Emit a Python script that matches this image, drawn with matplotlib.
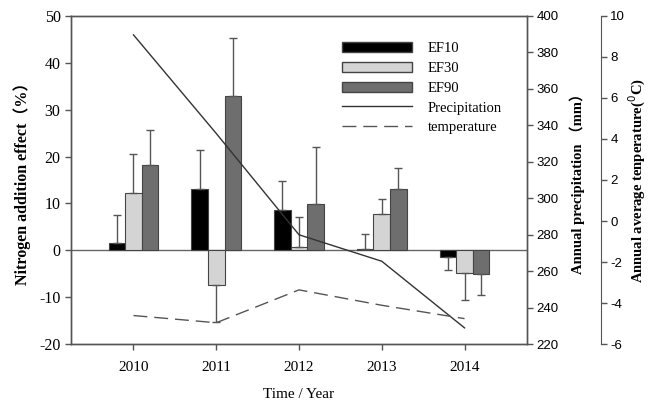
import matplotlib
matplotlib.use("Agg")
import matplotlib.pyplot as plt
import numpy as np
from matplotlib.patches import Patch
from matplotlib.lines import Line2D

years = [2010, 2011, 2012, 2013, 2014]
ef10 = [1.5, 13.1, 8.7, 0.3, -1.5]
ef30 = [12.3, -7.3, 0.7, 7.7, -4.9]
ef90 = [18.1, 32.8, 9.8, 13.0, -5.1]
ef10_err = [6.1, 8.3, 6.1, 3.1, 2.7]
ef30_err = [8.2, 8.0, 6.5, 3.3, 5.7]
ef90_err = [7.5, 12.4, 12.3, 4.6, 4.5]
precip = [389.5, 335.5, 280.0, 265.5, 229.0]
temperature = [-4.6, -4.95, -3.35, -4.1, -4.75]

plt.rcParams["axes.unicode_minus"] = False
SERIF = ["Liberation Serif", "Noto Sans CJK SC", "DejaVu Sans"]
SANS = ["Liberation Sans", "DejaVu Sans"]
SPINE = "#555555"

fig = plt.figure(figsize=(6.48, 4.03), dpi=100)
ax = fig.add_axes([71/648, 1-344.3/403, (527-71)/648, (344.3-15.7)/403])
ax2 = ax.twinx()
ax3 = ax.twinx()

x = np.array(years, dtype=float)
w = 0.2
series = [(ef10, ef10_err, "#000000", -w), (ef30, ef30_err, "#d4d4d4", 0.0), (ef90, ef90_err, "#6e6e6e", w)]
for vals, errs, col, off in series:
    vals = np.array(vals); errs = np.array(errs)
    ax.bar(x + off, vals, width=w, color=col, edgecolor="#444444", linewidth=0.8, zorder=2)
    up = np.where(vals >= 0, errs, 0)
    dn = np.where(vals < 0, errs, 0)
    ax.errorbar(x + off, vals, yerr=[dn, up], fmt="none", ecolor="#555555",
                elinewidth=1.0, capsize=2.7, capthick=1.0, zorder=3)

ax.axhline(0, color="#666666", linewidth=1.0, zorder=1)
ax.set_xlim(2009.245, 2014.755)
ax.set_ylim(-20, 50)
ax.set_yticks(np.arange(-20, 51, 10))
ax.set_xticks(years)
ax.set_xticklabels([str(y) for y in years], family=SERIF, fontsize=11)
for lab in ax.get_yticklabels():
    lab.set_family(SERIF); lab.set_fontsize(11.5)
ax.tick_params(axis="both", direction="out", length=4, color=SPINE, width=1)
ax.tick_params(axis="x", pad=8)
for s in ax.spines.values():
    s.set_color(SPINE); s.set_linewidth(1.0)
ax.set_ylabel("Nitrogen addition effect（%）", family=SERIF, fontsize=11.5, fontweight="bold", labelpad=6)
ax.set_xlabel("Time / Year", family=SERIF, fontsize=11, labelpad=10)

# precipitation axis
ax2.plot(x, precip, color="#333333", linewidth=1.0)
ax2.set_ylim(220, 400)
ax2.set_yticks(np.arange(220, 401, 20))
for lab in ax2.get_yticklabels():
    lab.set_family(SANS); lab.set_fontsize(9.5)
ax2.tick_params(axis="y", direction="out", length=4, color=SPINE, width=1, pad=3)
for s in ax2.spines.values():
    s.set_color(SPINE); s.set_linewidth(1.0)
ax2.set_ylabel("Annual precipitation （mm）", family=SERIF, fontsize=10.5, fontweight="bold", labelpad=8)

# temperature axis
ax3.plot(x, temperature, color="#555555", linewidth=1.0, dashes=(10, 5))
ax3.set_ylim(-6, 10)
ax3.set_yticks(np.arange(-6, 11, 2))
ax3.spines["right"].set_position(("axes", (600.7-71)/456))
for k in ["top", "left", "bottom"]:
    ax3.spines[k].set_visible(False)
ax3.spines["right"].set_color(SPINE)
for lab in ax3.get_yticklabels():
    lab.set_family(SANS); lab.set_fontsize(9.5)
ax3.tick_params(axis="y", direction="out", length=4, color=SPINE, width=1, pad=3)
ax3.set_ylabel("Annual average tenperature($^{0}$C)", family=SERIF, fontsize=10.5, fontweight="bold", labelpad=1)

handles = [Patch(facecolor="#000000", edgecolor="#444444"),
           Patch(facecolor="#d4d4d4", edgecolor="#444444"),
           Patch(facecolor="#6e6e6e", edgecolor="#444444"),
           Line2D([], [], color="#333333", linewidth=1.0),
           Line2D([], [], color="#555555", linewidth=1.0, dashes=(10, 5))]
labels = ["EF10", "EF30", "EF90", "Precipitation", "temperature"]
leg = ax3.legend(handles, labels, loc="upper left", bbox_to_anchor=(342/648, 1-42/403),
                 bbox_transform=fig.transFigure, frameon=False, prop={"family": SERIF, "size": 10.5},
                 handlelength=4.8, handletextpad=1.1, labelspacing=0.45, borderpad=0, borderaxespad=0)

fig.savefig("out.png", dpi=100)
